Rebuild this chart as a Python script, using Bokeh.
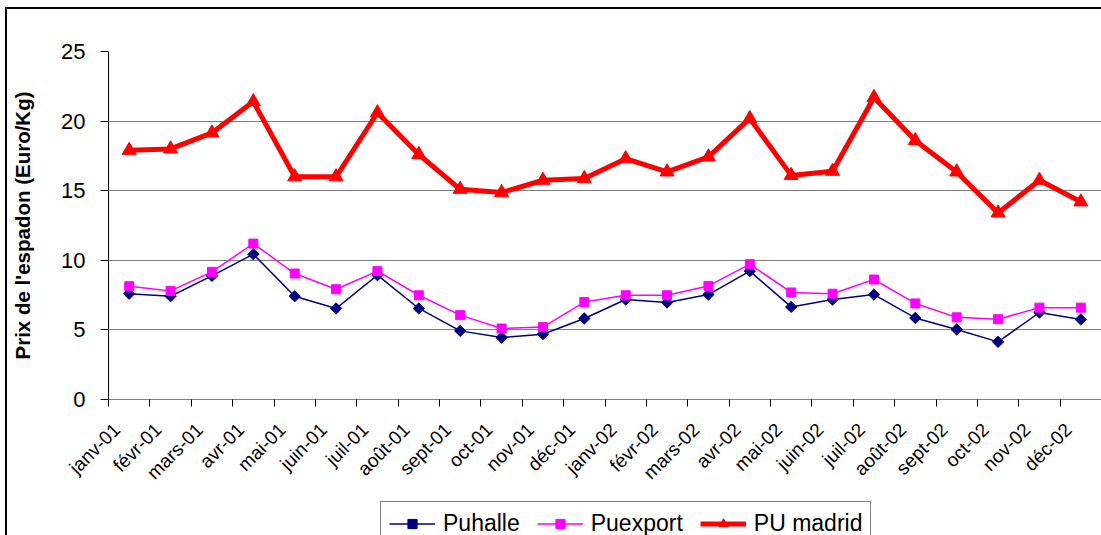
import math
from bokeh.plotting import figure
from bokeh.layouts import column
from bokeh.models import FixedTicker, Range1d, Legend, LegendItem
from bokeh.embed import file_html
from bokeh.resources import INLINE

months = ["janv-01", "févr-01", "mars-01", "avr-01", "mai-01", "juin-01",
          "juil-01", "août-01", "sept-01", "oct-01", "nov-01", "déc-01",
          "janv-02", "févr-02", "mars-02", "avr-02", "mai-02", "juin-02",
          "juil-02", "août-02", "sept-02", "oct-02", "nov-02", "déc-02"]

puhalle = [7.6, 7.42, 8.88, 10.44, 7.42, 6.54, 8.93, 6.54, 4.93, 4.45, 4.69, 5.82,
           7.18, 6.97, 7.54, 9.22, 6.65, 7.18, 7.54, 5.86, 5.03, 4.14, 6.25, 5.75]
puexport = [8.14, 7.8, 9.17, 11.2, 9.05, 7.92, 9.22, 7.49, 6.06, 5.1, 5.2, 7.0,
            7.49, 7.49, 8.16, 9.72, 7.69, 7.6, 8.62, 6.9, 5.9, 5.77, 6.6, 6.6]
pu_madrid = [17.9, 18.0, 19.15, 21.4, 16.0, 16.0, 20.6, 17.6, 15.1, 14.87, 15.75, 15.87,
             17.3, 16.35, 17.43, 20.19, 16.1, 16.4, 21.7, 18.6, 16.35, 13.4, 15.75, 14.2]

series_names = ["Puhalle", "Puexport", "PU madrid"]
y_ticks = [0, 5, 10, 15, 20, 25]

n = len(months)
xc = [i + 0.5 for i in range(n)]          # category centres
label_pos = [i + 0.2 for i in range(n)]   # rotated labels end a little left of centre

FONT = "Liberation Sans"
NAVY, MAGENTA, RED = "#000080", "#FF00FF", "#FF0000"

W = 1094
p = figure(width=W, height=492, output_backend="svg", toolbar_location=None,
           x_range=Range1d(0, n), y_range=Range1d(0, 25),
           min_border_left=101, min_border_right=0, min_border_top=42, min_border_bottom=102,
           background_fill_color="white", border_fill_color="white")
p.outline_line_color = None
p.xgrid.visible = False
p.ygrid.grid_line_color = "#808080"
p.ygrid.grid_line_width = 1
p.ygrid.ticker = FixedTicker(ticks=y_ticks)

# y axis
p.yaxis.ticker = FixedTicker(ticks=y_ticks)
p.yaxis.axis_line_color = "black"
p.yaxis.major_tick_line_color = "black"
p.yaxis.major_tick_out = 8
p.yaxis.major_tick_in = 0
p.yaxis.minor_tick_line_color = None
p.yaxis.major_label_text_font = FONT
p.yaxis.major_label_text_font_size = "22px"
p.yaxis.major_label_text_color = "black"
p.yaxis.major_label_standoff = 15
p.yaxis.axis_label = "Prix de l'espadon (Euro/Kg)"
p.yaxis.axis_label_text_font = FONT
p.yaxis.axis_label_text_font_style = "bold"
p.yaxis.axis_label_text_font_size = "20.5px"
p.yaxis.axis_label_text_color = "black"
p.yaxis.axis_label_standoff = 24

# x axis: labels near category centres, tick marks at category boundaries
p.xaxis.ticker = FixedTicker(ticks=label_pos, minor_ticks=list(range(n + 1)))
p.xaxis.major_label_overrides = {x: m for x, m in zip(label_pos, months)}
p.xaxis.major_tick_line_color = None
p.xaxis.minor_tick_line_color = "black"
p.xaxis.minor_tick_out = 7
p.xaxis.minor_tick_in = 0
p.xaxis.axis_line_color = "#808080"
p.xaxis.major_label_orientation = math.pi / 4
p.xaxis.major_label_text_font = FONT
p.xaxis.major_label_text_font_size = "19px"
p.xaxis.major_label_text_color = "black"
p.xaxis.major_label_standoff = 20

# series
styles = [dict(color=NAVY, width=1.5, marker="square", angle=math.pi / 4, size=8),
          dict(color=MAGENTA, width=1.5, marker="square", angle=0.0, size=9),
          dict(color=RED, width=5, marker="triangle", angle=0.0, size=14)]
for vals, st in zip([puhalle, puexport, pu_madrid], styles):
    p.line(xc, vals, line_color=st["color"], line_width=st["width"])
    p.scatter(xc, vals, marker=st["marker"], size=st["size"], angle=st["angle"],
              fill_color=st["color"], line_color=st["color"])

# legend strip (separate figure so that it is not clipped by the plot frame)
pleg = figure(width=W, height=34, output_backend="svg", toolbar_location=None,
              x_range=Range1d(0, 1), y_range=Range1d(0, 1),
              x_axis_type=None, y_axis_type=None,
              min_border_left=101, min_border_right=0, min_border_top=0, min_border_bottom=0,
              background_fill_color="white", border_fill_color="white")
pleg.outline_line_color = None
pleg.xgrid.visible = False
pleg.ygrid.visible = False
legend_sizes = [7, 8, 11]
items = []
for name, st, ls in zip(series_names, styles, legend_sizes):
    # one point far outside the visible range, only to carry the legend style
    rl = pleg.line([-10, -9], [-10, -10], line_color=st["color"], line_width=st["width"])
    rs = pleg.scatter([-10], [-10], marker=st["marker"], size=ls, angle=st["angle"],
                      fill_color=st["color"], line_color=st["color"])
    items.append(LegendItem(label=name, renderers=[rl, rs]))

legend = Legend(items=items, orientation="horizontal", location=(272, -11),
                label_text_font=FONT, label_text_font_size="23px", label_text_color="black",
                glyph_width=46, glyph_height=23, label_height=23, label_standoff=8,
                spacing=17, padding=8, margin=0,
                border_line_color="black", border_line_width=1,
                background_fill_color="white", background_fill_alpha=1)
pleg.add_layout(legend, "center")

layout = column(p, pleg, spacing=0,
                styles={"margin-top": "7px", "margin-left": "5px",
                        "border-top": "2px solid black",
                        "border-left": "2px solid black"})

open("out.html", "w").write(file_html(layout, INLINE))
